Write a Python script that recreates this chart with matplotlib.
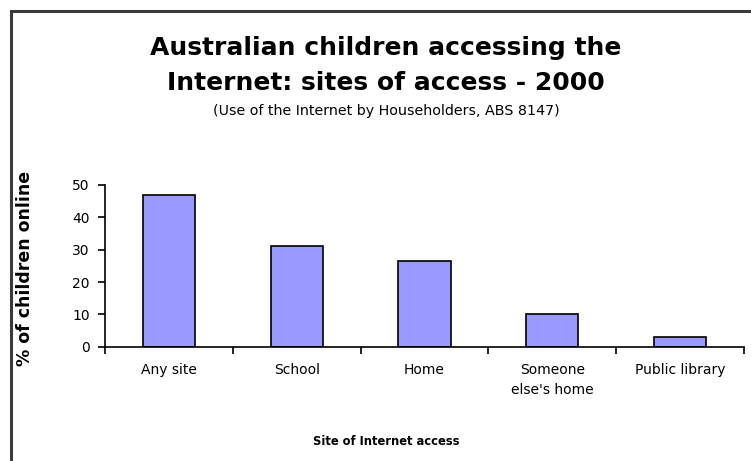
import numpy as np
import matplotlib
matplotlib.use('Agg')
import matplotlib.pyplot as plt
import matplotlib.patches as mpatches

# data
sites = ['Any site', 'School', 'Home', 'Someone\nelse\'s home', 'Public library']
pct_online = [47, 31, 26.5, 10, 3]
yticks = [0, 10, 20, 30, 40, 50]

barColor = '#9999FF'
szTick = 10

fig = plt.figure(figsize=(7.51, 4.61), dpi=100)
fig.patch.set_facecolor('white')

# outer frame of the chart area (runs off the right and bottom edge)
W, H = 751, 461
frame = mpatches.Rectangle((11/W, -0.05), 1.1, 1 - 11/H + 0.05, transform=fig.transFigure,
                           fill=False, ec='#3a3a3a', lw=2.2)
fig.patches.append(frame)

ax = fig.add_axes([105/W, 1 - 346.7/H, (744 - 105)/W, (346.7 - 185)/H])
x = np.arange(len(sites))
ax.bar(x, pct_online, width=0.41, color=barColor, edgecolor='black', lw=1.2)

ax.set_xlim(-0.5, len(sites) - 0.5)
ax.set_ylim(0, 50)
ax.set_yticks(yticks)
ax.set_yticklabels([str(v) for v in yticks], fontsize=szTick)
ax.set_xticks(x)
ax.set_xticklabels(sites, fontsize=szTick, linespacing=1.5)
ax.tick_params(axis='x', length=0, pad=12)
ax.set_xticks(np.arange(len(sites) + 1) - 0.5, minor=True)
ax.tick_params(axis='x', which='minor', length=5, width=1.2, direction='out')
ax.tick_params(axis='y', length=5, width=1.2, direction='out', pad=6)

for side in ['top', 'right']:
    ax.spines[side].set_visible(False)
for side in ['left', 'bottom']:
    ax.spines[side].set_linewidth(1.2)

# axis titles placed in figure pixels
fig.text(25/W, 1 - 268/H, '% of children online', rotation=90, ha='center', va='center',
         fontsize=12.5, fontweight='bold')
fig.text(386/W, 1 - 441/H, 'Site of Internet access', ha='center', va='center',
         fontsize=8.3, fontweight='bold')

fig.text(386/W, 1 - 48/H, 'Australian children accessing the', ha='center', va='center',
         fontsize=18, fontweight='bold')
fig.text(386/W, 1 - 83/H, 'Internet: sites of access - 2000', ha='center', va='center',
         fontsize=18, fontweight='bold')
fig.text(386/W, 1 - 111/H, '(Use of the Internet by Householders, ABS 8147)', ha='center',
         va='center', fontsize=10.3)

plt.savefig('out.png', dpi=100)
